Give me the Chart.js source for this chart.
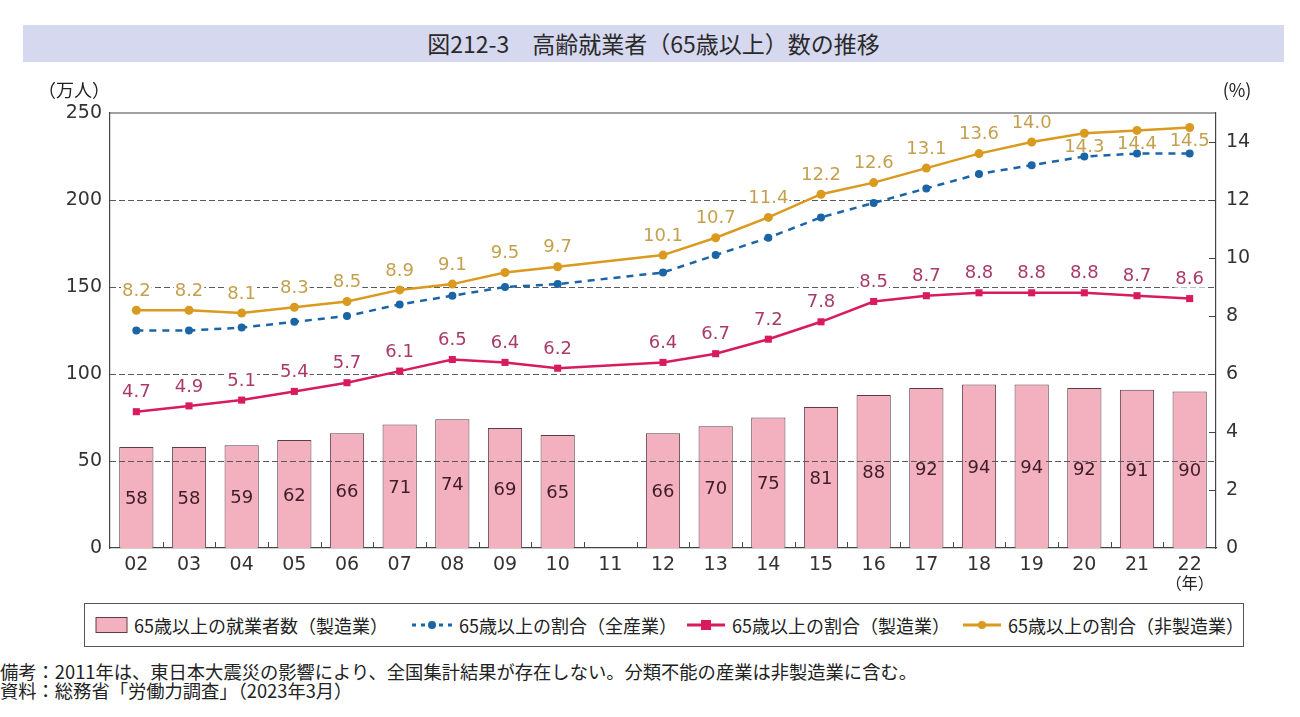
<!DOCTYPE html>
<html lang="ja">
<head>
<meta charset="utf-8">
<script src="https://cdn.jsdelivr.net/npm/chart.js@4/dist/chart.umd.min.js"></script>
<style>
  body { margin: 0; background: #fff; font-family: "Noto Sans CJK JP", sans-serif; color: #222; }
  #wrap { position: relative; width: 1300px; height: 717px; overflow: hidden; }
  #titulo { position: absolute; left: 23px; top: 25px; width: 1261px; height: 37px; background: #d6d8ef;
            font-size: 23px; font-weight: 400; line-height: 37px; text-align: center; color: #2a2a2a; }
  #grafico { position: absolute; left: 0; top: 0; }
  #legenda { position: absolute; left: 84px; top: 603px; width: 1158px; height: 42px; border: 1px solid #555;
             font-size: 18px; color: #222; }
  .item { position: absolute; top: 0; height: 42px; display: flex; align-items: center; white-space: nowrap; }
  .item svg { margin-right: 5px; }
  .nota { position: absolute; left: 0; font-size: 18.3px; line-height: 19px; color: #222; white-space: nowrap; }
</style>
</head>
<body>
<div id="wrap">
  <div id="titulo">図212-3　高齢就業者（65歳以上）数の推移</div>
  <canvas id="grafico" width="1300" height="600"></canvas>
  <div id="legenda">
    <div class="item" style="left:10px">
      <svg width="34" height="18"><rect x="1" y="1.5" width="31" height="15" fill="#f3b0bf" stroke="#5e3d46" stroke-width="1"/></svg>
      65歳以上の就業者数（製造業）
    </div>
    <div class="item" style="left:325px">
      <svg width="44" height="18"><line x1="2" y1="9" x2="42" y2="9" stroke="#1b65a6" stroke-width="3" stroke-dasharray="4,5"/><circle cx="22" cy="9" r="4" fill="#1b65a6"/></svg>
      65歳以上の割合（全産業）
    </div>
    <div class="item" style="left:600px">
      <svg width="42" height="18"><line x1="2" y1="9" x2="40" y2="9" stroke="#d81b5e" stroke-width="3"/><rect x="16" y="4" width="10" height="10" fill="#d81b5e"/></svg>
      65歳以上の割合（製造業）
    </div>
    <div class="item" style="left:876px">
      <svg width="42" height="18"><line x1="2" y1="9" x2="40" y2="9" stroke="#d99a1f" stroke-width="3"/><circle cx="21" cy="9" r="4" fill="#d99a1f"/></svg>
      65歳以上の割合（非製造業）
    </div>
  </div>
  <div class="nota" style="top:662px">備考：2011年は、東日本大震災の影響により、全国集計結果が存在しない。分類不能の産業は非製造業に含む。</div>
  <div class="nota" style="top:681px">資料：総務省「労働力調査」（2023年3月）</div>
</div>
<script>
const anos = ['02','03','04','05','06','07','08','09','10','11','12','13','14','15','16','17','18','19','20','21','22'];
// 65歳以上の就業者数（製造業）, 万人
const empregados = [58, 58, 59, 62, 66, 71, 74, 69, 65, null, 66, 70, 75, 81, 88, 92, 94, 94, 92, 91, 90];
// 65歳以上の割合, %
const taxaTotal = [7.5, 7.5, 7.6, 7.8, 8.0, 8.4, 8.7, 9.0, 9.1, null, 9.5, 10.1, 10.7, 11.4, 11.9, 12.4, 12.9, 13.2, 13.5, 13.6, 13.6];
const taxaManuf = [4.7, 4.9, 5.1, 5.4, 5.7, 6.1, 6.5, 6.4, 6.2, null, 6.4, 6.7, 7.2, 7.8, 8.5, 8.7, 8.8, 8.8, 8.8, 8.7, 8.6];
const taxaNaoManuf = [8.2, 8.2, 8.1, 8.3, 8.5, 8.9, 9.1, 9.5, 9.7, null, 10.1, 10.7, 11.4, 12.2, 12.6, 13.1, 13.6, 14.0, 14.3, 14.4, 14.5];
const ticksEsq = [0, 50, 100, 150, 200, 250];
const ticksDir = [0, 2, 4, 6, 8, 10, 12, 14];
const linhasGrade = [50, 100, 150, 200];

const fonte = '"Noto Sans CJK JP", sans-serif';
const fonteNum = '"DejaVu Sans", sans-serif';

function rotulo(ctx, texto, x, y, cor, fundo) {
  ctx.font = '18px ' + fonteNum;
  const w = ctx.measureText(texto).width;
  if (fundo) {
    ctx.fillStyle = fundo;
    ctx.fillRect(x - w / 2 - 1, y - 8, w + 2, 16);
  }
  ctx.fillStyle = cor;
  ctx.textAlign = 'center';
  ctx.textBaseline = 'middle';
  ctx.fillText(texto, x, y);
}

const extras = {
  id: 'extras',
  afterDatasetDraw(chart, args) {
    if (args.index !== 0) return;
    const ctx = chart.ctx;
    const area = chart.chartArea;
    const y = chart.scales.y;
    // linhas de grade tracejadas por cima das barras
    ctx.save();
    ctx.strokeStyle = '#5a5a5a';
    ctx.lineWidth = 1;
    ctx.setLineDash([6, 3]);
    linhasGrade.forEach(v => {
      const py = Math.round(y.getPixelForValue(v)) + 0.5;
      ctx.beginPath();
      ctx.moveTo(area.left, py);
      ctx.lineTo(area.right, py);
      ctx.stroke();
    });
    ctx.setLineDash([]);
    // rotulos das barras
    chart.getDatasetMeta(0).data.forEach((bar, i) => {
      if (empregados[i] == null) return;
      rotulo(ctx, String(empregados[i]), bar.x, (bar.y + bar.base) / 2 + 2, '#3e1c28', '#f3b0bf');
    });
    // rotulos das linhas
    chart.getDatasetMeta(2).data.forEach((p, i) => {
      if (taxaManuf[i] == null) return;
      rotulo(ctx, taxaManuf[i].toFixed(1), p.x, p.y - 19, '#a93a68', '#fff');
    });
    chart.getDatasetMeta(3).data.forEach((p, i) => {
      if (taxaNaoManuf[i] == null) return;
      const abaixo = i >= 18;
      rotulo(ctx, taxaNaoManuf[i].toFixed(1), p.x, abaixo ? p.y + 14 : p.y - 19, '#c4a04e', abaixo ? null : '#fff');
    });
    ctx.restore();
  },
  afterDraw(chart) {
    const ctx = chart.ctx;
    const area = chart.chartArea;
    const x = chart.scales.x;
    const y2 = chart.scales.y2;
    ctx.save();
    ctx.strokeStyle = '#444';
    ctx.lineWidth = 1.2;
    // borda de cima
    ctx.beginPath();
    ctx.moveTo(area.left, area.top);
    ctx.lineTo(area.right, area.top);
    ctx.stroke();
    // marcas internas do eixo x, entre categorias
    ctx.lineWidth = 1;
    for (let i = 0; i < anos.length - 1; i++) {
      const px = Math.round((x.getPixelForTick(i) + x.getPixelForTick(i + 1)) / 2) + 0.5;
      ctx.beginPath();
      ctx.moveTo(px, area.bottom);
      ctx.lineTo(px, area.bottom - 6);
      ctx.stroke();
    }
    // marcas internas do eixo da direita
    ticksDir.forEach(v => {
      if (v === 0) return;
      const py = Math.round(y2.getPixelForValue(v)) + 0.5;
      ctx.beginPath();
      ctx.moveTo(area.right - 7, py);
      ctx.lineTo(area.right, py);
      ctx.stroke();
    });
    // unidades
    ctx.fillStyle = '#222';
    ctx.font = '18px ' + fonte;
    ctx.textBaseline = 'middle';
    ctx.textAlign = 'center';
    ctx.fillText('（万人）', 74, 90);
    ctx.fillText('(%)', 1237, 90);
    ctx.font = '16px ' + fonte;
    ctx.fillText('（年）', x.getPixelForTick(anos.length - 1), 583);
    ctx.restore();
  }
};

const fonteTick = { size: 19, family: fonteNum };

new Chart(document.getElementById('grafico').getContext('2d'), {
  data: {
    labels: anos,
    datasets: [
      {
        type: 'bar',
        label: '65歳以上の就業者数（製造業）',
        data: empregados,
        yAxisID: 'y',
        backgroundColor: '#f3b0bf',
        borderColor: '#5e3d46',
        borderWidth: 1,
        barPercentage: 0.65,
        categoryPercentage: 1,
        order: 4,
      },
      {
        type: 'line',
        label: '65歳以上の割合（全産業）',
        data: taxaTotal,
        yAxisID: 'y2',
        borderColor: '#1b65a6',
        backgroundColor: '#1b65a6',
        borderWidth: 2.5,
        borderDash: [7, 6],
        pointRadius: 4,
        pointBorderWidth: 0,
        spanGaps: true,
        order: 3,
      },
      {
        type: 'line',
        label: '65歳以上の割合（製造業）',
        data: taxaManuf,
        yAxisID: 'y2',
        borderColor: '#d81b5e',
        backgroundColor: '#d81b5e',
        borderWidth: 2.5,
        pointStyle: 'rect',
        pointRadius: 5,
        pointBorderWidth: 0,
        spanGaps: true,
        order: 2,
      },
      {
        type: 'line',
        label: '65歳以上の割合（非製造業）',
        data: taxaNaoManuf,
        yAxisID: 'y2',
        borderColor: '#d99a1f',
        backgroundColor: '#d99a1f',
        borderWidth: 2.5,
        pointRadius: 4.5,
        pointBorderWidth: 0,
        spanGaps: true,
        order: 1,
      },
    ],
  },
  options: {
    animation: false,
    responsive: false,
    layout: { padding: { top: 113, left: 0, right: 0, bottom: 0 } },
    plugins: {
      legend: { display: false },
      tooltip: { enabled: false },
    },
    scales: {
      x: {
        grid: { display: false, drawTicks: false },
        border: { color: '#444', width: 1.2 },
        ticks: { color: '#333', font: fonteTick, padding: 6, maxRotation: 0 },
        afterFit: (s) => { s.height = 52; },
      },
      y: {
        position: 'left',
        min: 0,
        max: 250,
        grid: { display: false, drawTicks: false },
        border: { color: '#444', width: 1.2 },
        ticks: { color: '#333', font: fonteTick, padding: 8 },
        afterBuildTicks: (s) => { s.ticks = ticksEsq.map(v => ({ value: v })); },
        afterFit: (s) => { s.width = 110; },
      },
      y2: {
        position: 'right',
        min: 0,
        max: 15,
        grid: { display: false, drawTicks: false },
        border: { color: '#444', width: 1.2 },
        ticks: { color: '#333', font: fonteTick, padding: 10 },
        afterBuildTicks: (s) => { s.ticks = ticksDir.map(v => ({ value: v })); },
        afterFit: (s) => { s.width = 84; },
      },
    },
  },
  plugins: [extras],
});
</script>
</body>
</html>
